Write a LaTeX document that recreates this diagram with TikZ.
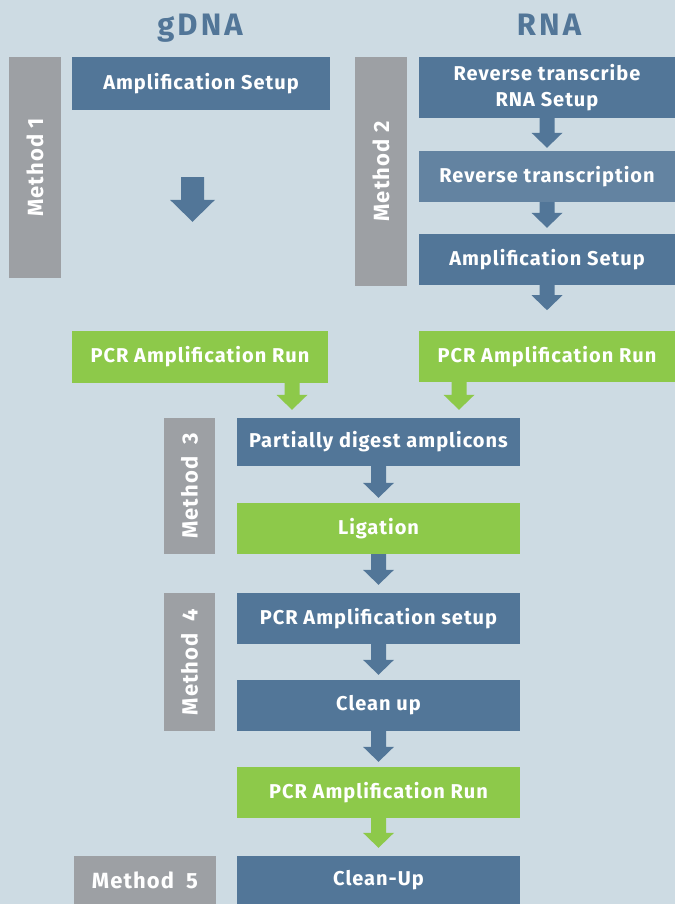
\documentclass[tikz,border=0pt]{standalone}
\usepackage{fontspec}
\setmainfont{Fira Sans}
\newfontfamily\boxfont[LetterSpace=5]{Fira Sans}
\newfontfamily\ttlfont[LetterSpace=10]{Fira Sans}
\usetikzlibrary{calc}
\definecolor{bgc}{HTML}{CDDBE3}
\definecolor{bluec}{HTML}{527698}
\definecolor{lbluec}{HTML}{6383A1}
\definecolor{greenc}{HTML}{8DC94A}
\definecolor{grayc}{HTML}{9DA0A4}
\newcommand{\flowarrow}[6]{%
  \fill[#1] let \p1=#2, \p2=#3 in
    ($(\x1-#4,\y1)$) -- ($(\x1+#4,\y1)$) -- ($(\x1+#4,\y2+#6)$) -- ($(\x1+#5,\y2+#6)$)
    -- (\x1,\y2) -- ($(\x1-#5,\y2+#6)$) -- ($(\x1-#4,\y2+#6)$) -- cycle;}
\begin{document}
\begin{tikzpicture}[x=1pt,y=-1pt,
  box/.style={fill=bluec,text=white,font=\boxfont\bfseries\fontsize{20}{26}\selectfont,inner sep=0pt,align=center,minimum width=#1},
  box/.default=283pt,
  gbox/.style={box=#1,fill=greenc},
  gbox/.default=283pt,
  meth/.style={fill=grayc,text=white,font=\boxfont\bfseries\fontsize{22}{26}\selectfont,inner sep=0pt},
  ttl/.style={text=bluec,font=\ttlfont\bfseries\fontsize{31}{34}\selectfont,inner sep=0pt,anchor=base}]
\fill[bgc] (0,0) rectangle (675,904);
\useasboundingbox (0,0) rectangle (675,904);
% titles
\node[ttl] (tg) at (200,36) {gDNA};
\node[ttl] (tr) at (549,36) {RNA};
% method bars
\node[meth,rotate=90,minimum width=221pt,minimum height=52pt] (m1) at (35,167.5) {Method 1};
\node[meth,rotate=90,minimum width=229pt,minimum height=52pt] (m2) at (381,171.5) {Method 2};
\node[meth,rotate=90,minimum width=136pt,minimum height=51pt] (m3) at (189.5,486) {Method\hspace{0.55em}3};
\node[meth,rotate=90,minimum width=138pt,minimum height=51pt] (m4) at (189.5,662) {Method\hspace{0.55em}4};
\node[meth,minimum width=142pt,minimum height=48pt] (m5) at (145,880) {Method\hspace{0.55em}5};
% gDNA column
\node[box=258pt,minimum height=53pt] (amp1) at (201,83.5) {Amplification Setup};
\node[gbox=256pt,minimum height=52pt] (pcr1) at (200,357) {PCR Amplification Run};
% RNA column
\node[box=256pt,minimum height=61pt] (rt1) at (547,87.5) {Reverse transcribe\\RNA Setup};
\node[box=256pt,fill=lbluec,minimum height=51pt] (rt2) at (547,176.5) {Reverse transcription};
\node[box=256pt,minimum height=51pt] (amp2) at (547,259.5) {Amplification Setup};
\node[gbox=256pt,minimum height=51pt] (pcr2) at (547,356.5) {PCR Amplification Run};
% merged column
\node[box,minimum height=48pt] (dig) at (378.5,442) {Partially digest amplicons};
\node[gbox,minimum height=51pt] (lig) at (378.5,528.5) {Ligation};
\node[box,minimum height=51pt] (pcrs) at (378.5,618.5) {PCR Amplification setup};
\node[box,minimum height=51pt] (clean) at (378.5,705.5) {Clean up};
\node[gbox,minimum height=51pt] (pcr3) at (378.5,792.5) {PCR Amplification Run};
\node[box,minimum height=48pt] (cu) at (378.5,880) {Clean-Up};
% arrows
\coordinate (big1) at ($(amp1.south)+(-8.5,67)$);
\coordinate (big2) at ($(pcr1.north)+(-7.5,-109)$);
\flowarrow{bluec}{(big1)}{(big2)}{11.5pt}{22.5pt}{22pt}
\flowarrow{bluec}{(rt1.south)}{($(rt2.north)+(0,-3)$)}{7.5pt}{15.5pt}{15pt}
\flowarrow{bluec}{(rt2.south)}{($(amp2.north)+(0,-6)$)}{7.5pt}{15.5pt}{15pt}
\coordinate (a2end) at ($(amp2.south)+(0,25)$);
\flowarrow{bluec}{(amp2.south)}{(a2end)}{7.5pt}{15.5pt}{15pt}
\coordinate (p1s) at ($(pcr1.south)+(92,0)$);
\coordinate (p1e) at ($(dig.north)+(-86.5,-8)$);
\flowarrow{greenc}{(p1s)}{(p1e)}{7.5pt}{15.5pt}{15pt}
\coordinate (p2s) at ($(pcr2.south)+(-88,0)$);
\coordinate (p2e) at ($(dig.north)+(80.5,-8)$);
\flowarrow{greenc}{(p2s)}{(p2e)}{7.5pt}{15.5pt}{15pt}
\flowarrow{bluec}{(dig.south)}{($(lig.north)+(0,-5)$)}{7.5pt}{15.5pt}{15pt}
\flowarrow{bluec}{(lig.south)}{($(pcrs.north)+(0,-8)$)}{7.5pt}{15.5pt}{15pt}
\flowarrow{bluec}{(pcrs.south)}{($(clean.north)+(0,-5)$)}{7.5pt}{15.5pt}{15pt}
\flowarrow{bluec}{(clean.south)}{($(pcr3.north)+(0,-5)$)}{7.5pt}{15.5pt}{15pt}
\flowarrow{greenc}{(pcr3.south)}{($(cu.north)+(0,-8)$)}{7.5pt}{15.5pt}{15pt}
\end{tikzpicture}
\end{document}
